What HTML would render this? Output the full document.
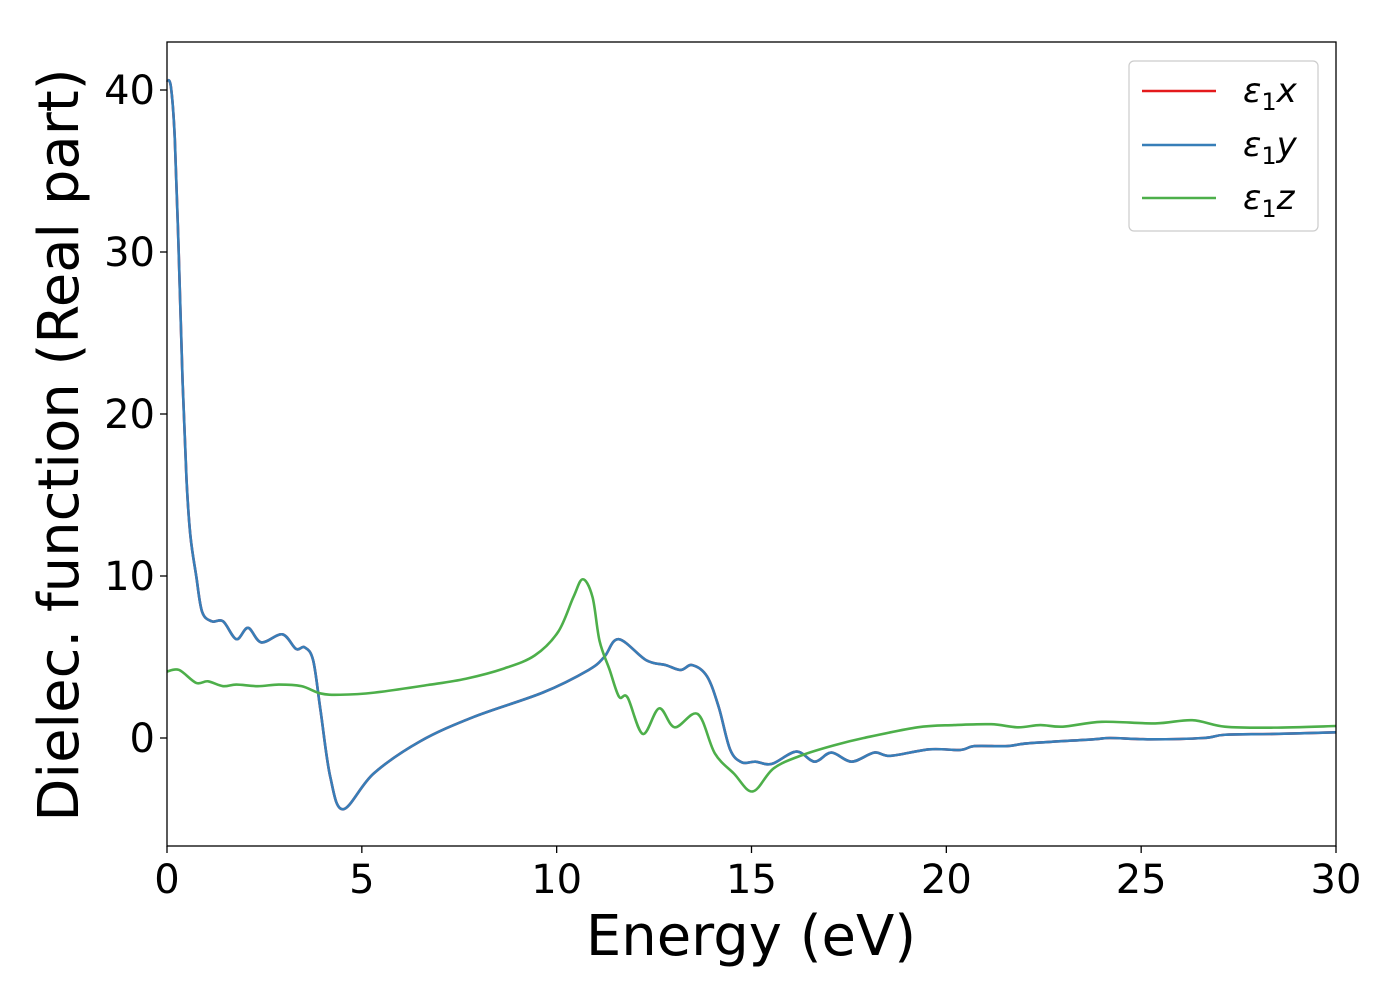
<!DOCTYPE html>
<html><head><meta charset="utf-8"><style>
body{margin:0;background:#fff;}
svg text{font-family:"DejaVu Sans","Liberation Sans",sans-serif;}
</style></head><body>
<svg width="1400" height="1000" xmlns="http://www.w3.org/2000/svg" id="chart">
<rect x="0" y="0" width="1400" height="1000" fill="#fff"/>
<g id="series"></g>
<g id="axes"></g>
<rect x="167" y="42" width="1169" height="804" fill="none" stroke="#000" stroke-width="1.3"/>
<text x="751" y="955" font-size="56" text-anchor="middle">Energy (eV)</text>
<text transform="translate(78,445) rotate(-90)" font-size="56" text-anchor="middle">Dielec. function (Real part)</text>
<g>
<rect x="1129" y="61" width="189" height="170" rx="5" fill="#fff" stroke="#ccc" stroke-width="1.2"/>
<line x1="1142" y1="91" x2="1216" y2="91" stroke="#e41a1c" stroke-width="2.5"/>
<text x="1243" y="102" font-size="34" font-style="italic">ε<tspan font-size="24" dy="8" font-style="normal">1</tspan><tspan dy="-8">x</tspan></text>
<line x1="1142" y1="145" x2="1216" y2="145" stroke="#377eb8" stroke-width="2.5"/>
<text x="1243" y="156" font-size="34" font-style="italic">ε<tspan font-size="24" dy="8" font-style="normal">1</tspan><tspan dy="-8">y</tspan></text>
<line x1="1142" y1="198" x2="1216" y2="198" stroke="#4daf4a" stroke-width="2.5"/>
<text x="1243" y="209" font-size="34" font-style="italic">ε<tspan font-size="24" dy="8" font-style="normal">1</tspan><tspan dy="-8">z</tspan></text>
</g>
</svg>
<script>
const xTicks=[0,5,10,15,20,25,30];
const yTicks=[0,10,20,30,40];
const blueE=[0,0.1,0.2,0.3,0.4,0.5,0.6,0.75,0.9,1.15,1.44,1.78,2.08,2.42,2.96,3.31,3.53,3.75,3.94,4.19,4.52,5.3,6.5,7.87,9.64,10.82,11.22,11.59,12.3,12.8,13.18,13.48,13.86,14.16,14.45,14.75,15.1,15.52,16.15,16.62,17.05,17.57,18.15,18.57,19.57,20.36,20.72,21.57,22.1,23.78,24.2,25.25,26.6,27.15,28.4,30];
const blueV=[40.6,40.2,37,30,22,16,12.5,10,7.8,7.2,7.2,6.1,6.8,5.9,6.4,5.5,5.6,4.8,1.7,-2.4,-4.4,-2.2,-0.2,1.3,2.8,4.2,5.0,6.1,4.8,4.5,4.2,4.5,3.8,1.9,-0.7,-1.5,-1.46,-1.6,-0.84,-1.46,-0.9,-1.46,-0.9,-1.1,-0.7,-0.74,-0.5,-0.5,-0.33,-0.08,0,-0.08,0,0.2,0.25,0.35];
const redE=blueE.slice();
const redV=blueV.slice();
const greenE=[0,0.31,0.75,1.05,1.44,1.78,2.33,2.87,3.45,3.94,4.44,5.32,6.69,7.67,8.66,9.44,10.04,10.43,10.67,10.92,11.1,11.36,11.6,11.82,12.21,12.63,13.03,13.62,14.06,14.55,15.03,15.57,16.31,17.15,17.88,19.26,20.2,21.15,21.84,22.41,22.99,23.99,25.36,26.31,27.15,28.4,30];
const greenV=[4.1,4.2,3.4,3.5,3.2,3.3,3.2,3.3,3.2,2.75,2.67,2.8,3.27,3.66,4.3,5.1,6.56,8.7,9.8,8.7,6.0,4.2,2.55,2.5,0.25,1.83,0.66,1.48,-0.95,-2.2,-3.3,-1.87,-1.05,-0.43,0,0.66,0.8,0.85,0.66,0.8,0.7,1.0,0.9,1.1,0.7,0.64,0.74];
const X0=167,X1=1336,Y0=738,PPU=16.2;
const sx=e=>X0+(X1-X0)*e/30;
const sy=v=>Y0-PPU*v;
const NS="http://www.w3.org/2000/svg";
function pathFor(E,V){
  const p=E.map((e,i)=>[sx(e),sy(V[i])]);
  let d="M"+p[0][0]+","+p[0][1];
  for(let i=0;i<p.length-1;i++){
    const a=p[Math.max(i-1,0)],b=p[i],c=p[i+1],n=p[Math.min(i+2,p.length-1)];
    const c1=[b[0]+(c[0]-a[0])/6,b[1]+(c[1]-a[1])/6];
    const c2=[c[0]-(n[0]-b[0])/6,c[1]-(n[1]-b[1])/6];
    d+=" C"+c1[0]+","+c1[1]+" "+c2[0]+","+c2[1]+" "+c[0]+","+c[1];
  }
  return d;
}
const sg=document.getElementById("series");
[[redE,redV,"#e41a1c","line-eps1-x"],[blueE,blueV,"#377eb8","line-eps1-y"],[greenE,greenV,"#4daf4a","line-eps1-z"]].forEach(s=>{
  const el=document.createElementNS(NS,"path");
  el.setAttribute("d",pathFor(s[0],s[1]));
  el.setAttribute("fill","none");
  el.setAttribute("stroke",s[2]);
  el.setAttribute("stroke-width","2.6");
  
  
  sg.appendChild(el);
});
const ag=document.getElementById("axes");
xTicks.forEach(t=>{
  const l=document.createElementNS(NS,"line");
  l.setAttribute("x1",sx(t));l.setAttribute("x2",sx(t));
  l.setAttribute("y1",846);l.setAttribute("y2",853);
  l.setAttribute("stroke","#000");l.setAttribute("stroke-width","1.3");
  
  
  ag.appendChild(l);
  const tx=document.createElementNS(NS,"text");
  tx.setAttribute("x",sx(t));tx.setAttribute("y",893);
  tx.setAttribute("font-size","40");tx.setAttribute("text-anchor","middle");
  tx.textContent=t;
  
  
  ag.appendChild(tx);
});
yTicks.forEach(t=>{
  const l=document.createElementNS(NS,"line");
  l.setAttribute("x1",160);l.setAttribute("x2",167);
  l.setAttribute("y1",sy(t));l.setAttribute("y2",sy(t));
  l.setAttribute("stroke","#000");l.setAttribute("stroke-width","1.3");
  
  
  ag.appendChild(l);
  const tx=document.createElementNS(NS,"text");
  tx.setAttribute("x",155);tx.setAttribute("y",sy(t)+14);
  tx.setAttribute("font-size","40");tx.setAttribute("text-anchor","end");
  tx.textContent=t;
  
  
  ag.appendChild(tx);
});
</script>
</body></html>
